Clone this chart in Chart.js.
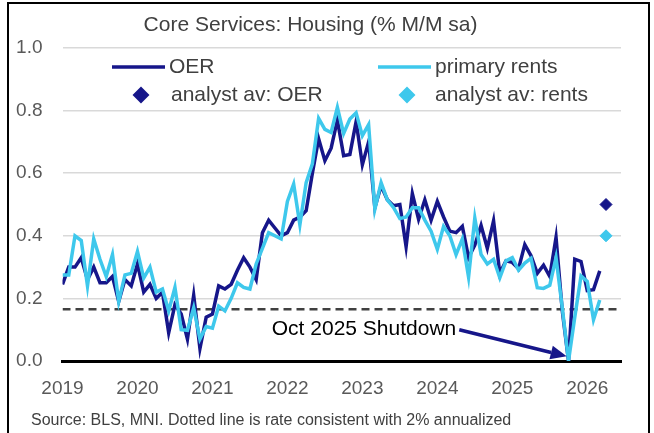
<!DOCTYPE html>
<html>
<head>
<meta charset="utf-8">
<script src="https://cdn.jsdelivr.net/npm/chart.js@4.4.1/dist/chart.umd.min.js"></script>
<style>
  html, body { margin: 0; padding: 0; background: #fff; }
</style>
</head>
<body>
<canvas id="housingChart" width="654" height="433"></canvas>
<script>
// monthly % m/m, index 0 = Jan 2019
const yearLabels = ['2019', '2020', '2021', '2022', '2023', '2024', '2025', '2026'];

const oer = [
  0.245, 0.30, 0.30, 0.33, 0.26, 0.30, 0.25, 0.25, 0.27, 0.19, 0.26, 0.24,
  0.31, 0.22, 0.245, 0.20, 0.22, 0.09, 0.18, 0.15, 0.07, 0.21, 0.04, 0.14,
  0.15, 0.24, 0.23, 0.245, 0.29, 0.33, 0.30, 0.26, 0.41, 0.45, 0.425, 0.40,
  0.41, 0.45, 0.46, 0.48, 0.60, 0.71, 0.64, 0.68, 0.77, 0.656, 0.66, 0.765,
  0.627, 0.70, 0.49, 0.56, 0.515, 0.496, 0.50, 0.365, 0.535, 0.453, 0.515, 0.45,
  0.51, 0.46, 0.415, 0.41, 0.43, 0.33, 0.37, 0.433, 0.36, 0.448, 0.28, 0.32,
  0.315, 0.295, 0.372, 0.336, 0.28, 0.306, 0.27, 0.395, 0.16, 0.0, 0.325, 0.318,
  0.225, 0.228, 0.288
];

const rents = [
  0.275, 0.275, 0.40, 0.385, 0.24, 0.39, 0.325, 0.27, 0.34, 0.19, 0.275, 0.28,
  0.35, 0.265, 0.30, 0.22, 0.23, 0.16, 0.235, 0.10, 0.098, 0.17, 0.07, 0.11,
  0.105, 0.175, 0.16, 0.20, 0.25, 0.235, 0.23, 0.31, 0.36, 0.41, 0.40, 0.39,
  0.51, 0.565, 0.435, 0.57, 0.63, 0.775, 0.74, 0.73, 0.81, 0.727, 0.773, 0.793,
  0.72, 0.755, 0.485, 0.57, 0.515, 0.49, 0.455, 0.46, 0.49, 0.49, 0.45, 0.415,
  0.357, 0.43, 0.40, 0.34, 0.39, 0.268, 0.457, 0.34, 0.31, 0.325, 0.266, 0.32,
  0.33, 0.29, 0.313, 0.328, 0.234, 0.232, 0.242, 0.33, 0.17, 0.0, 0.14, 0.272,
  0.254, 0.132, 0.195
];

const analystMonth = 87;
const analystOer = [0.50];
const analystRents = [0.40];
const targetRate = 0.165;   // 2% annualized
const shutdownTip = { x: 80.7, y: 0.015 };
const xMax = 89.4;

const FONT = '"Liberation Sans", Arial, sans-serif';
const navy = '#16168a';
const cyan = '#3ec8ec';
const gray = '#404040';

const toPoints = arr => arr.map((v, i) => ({ x: i, y: v }));

// outer frame
const framePlugin = {
  id: 'frame',
  beforeDraw(chart) {
    const ctx = chart.ctx;
    ctx.save();
    ctx.fillStyle = '#fff';
    ctx.fillRect(0, 0, chart.width, chart.height);
    ctx.strokeStyle = '#000';
    ctx.lineWidth = 2;
    ctx.beginPath();
    ctx.moveTo(8, 440);
    ctx.lineTo(8, 3);
    ctx.lineTo(649, 3);
    ctx.lineTo(649, 440);
    ctx.stroke();
    ctx.restore();
  }
};

// two-column legend inside the plot + annotation + source
const notesPlugin = {
  id: 'notes',
  afterDraw(chart) {
    const ctx = chart.ctx;
    const ds = chart.data.datasets;
    const xs = chart.scales.x, ys = chart.scales.y;
    ctx.save();
    ctx.font = '21px ' + FONT;
    ctx.textBaseline = 'middle';
    ctx.fillStyle = gray;

    const lineItem = (d, x0, y) => {
      ctx.strokeStyle = d.borderColor;
      ctx.lineWidth = 3.5;
      ctx.beginPath();
      ctx.moveTo(x0, y);
      ctx.lineTo(x0 + 53, y);
      ctx.stroke();
      ctx.fillText(d.label, x0 + 57, y);
    };
    const dotItem = (d, cx, y, tx) => {
      ctx.fillStyle = d.backgroundColor;
      ctx.strokeStyle = d.borderColor;
      Chart.helpers.drawPoint(ctx, { pointStyle: 'rectRot', radius: 6, rotation: 0, borderWidth: 1 }, cx, y);
      ctx.fillStyle = gray;
      ctx.fillText(d.label, tx, y);
    };
    lineItem(ds[0], 112, 67);
    lineItem(ds[1], 378, 67);
    dotItem(ds[2], 141, 95, 171);
    dotItem(ds[3], 407, 95, 435);

    // shutdown note
    const label = 'Oct 2025 Shutdown';
    const tx = xs.getPixelForValue(33.5), ty = ys.getPixelForValue(0.1);
    ctx.fillStyle = '#000';
    ctx.fillText(label, tx, ty);
    const sx = tx + ctx.measureText(label).width + 3, sy = ty;
    const ex = xs.getPixelForValue(shutdownTip.x), ey = ys.getPixelForValue(shutdownTip.y);
    const ang = Math.atan2(ey - sy, ex - sx);
    const head = 16, half = 7;
    const bx = ex - head * Math.cos(ang), by = ey - head * Math.sin(ang);
    ctx.strokeStyle = navy;
    ctx.fillStyle = navy;
    ctx.lineWidth = 3.5;
    ctx.beginPath();
    ctx.moveTo(sx, sy);
    ctx.lineTo(bx, by);
    ctx.stroke();
    ctx.beginPath();
    ctx.moveTo(ex, ey);
    ctx.lineTo(bx + half * Math.sin(ang), by - half * Math.cos(ang));
    ctx.lineTo(bx - half * Math.sin(ang), by + half * Math.cos(ang));
    ctx.closePath();
    ctx.fill();

    // source
    ctx.font = '16px ' + FONT;
    ctx.fillStyle = gray;
    ctx.fillText('Source: BLS, MNI. Dotted line is rate consistent with 2% annualized', 31, 421);
    ctx.restore();
  }
};

new Chart(document.getElementById('housingChart'), {
  type: 'line',
  data: {
    datasets: [
      { label: 'OER', data: toPoints(oer), borderColor: navy, borderWidth: 3.5, pointRadius: 0, order: 2 },
      { label: 'primary rents', data: toPoints(rents), borderColor: cyan, borderWidth: 3.5, pointRadius: 0, order: 1 },
      { label: 'analyst av: OER', type: 'scatter', data: analystOer.map(v => ({ x: analystMonth, y: v })),
        pointStyle: 'rectRot', pointRadius: 6, backgroundColor: navy, borderColor: navy, order: 0 },
      { label: 'analyst av: rents', type: 'scatter', data: analystRents.map(v => ({ x: analystMonth, y: v })),
        pointStyle: 'rectRot', pointRadius: 6, backgroundColor: cyan, borderColor: cyan, order: 0 },
      { label: '2% annualized', data: [{ x: 0, y: targetRate }, { x: xMax, y: targetRate }],
        borderColor: gray, borderDash: [8, 5], borderWidth: 2.5, pointRadius: 0, order: 3 }
    ]
  },
  options: {
    responsive: false,
    animation: false,
    layout: { padding: { top: 0, right: 33, bottom: 0, left: 0 } },
    plugins: {
      legend: { display: false },
      tooltip: { enabled: false },
      title: {
        display: true,
        text: 'Core Services: Housing (% M/M sa)',
        color: gray,
        font: { family: FONT, size: 21, weight: 'normal' },
        padding: { top: 13, bottom: 9.8 }
      }
    },
    scales: {
      x: {
        type: 'linear',
        min: 0,
        max: xMax,
        afterFit: s => { s.height = 72; },
        grid: { display: false, drawTicks: false },
        border: { display: true, color: '#000', width: 3 },
        ticks: {
          stepSize: 12,
          includeBounds: false,
          autoSkip: false,
          maxRotation: 0,
          padding: 16,
          color: '#595959',
          font: { family: FONT, size: 19 },
          callback: v => (v % 12 === 0 ? yearLabels[v / 12] : '')
        }
      },
      y: {
        min: 0,
        max: 1,
        afterFit: s => { s.width = 62.5; },
        grid: { color: '#d9d9d9', lineWidth: 1.5, drawTicks: false },
        border: { display: false },
        ticks: {
          stepSize: 0.2,
          padding: 20,
          color: '#595959',
          font: { family: FONT, size: 19 },
          callback: v => v.toFixed(1)
        }
      }
    }
  },
  plugins: [framePlugin, notesPlugin]
});
</script>
</body>
</html>
